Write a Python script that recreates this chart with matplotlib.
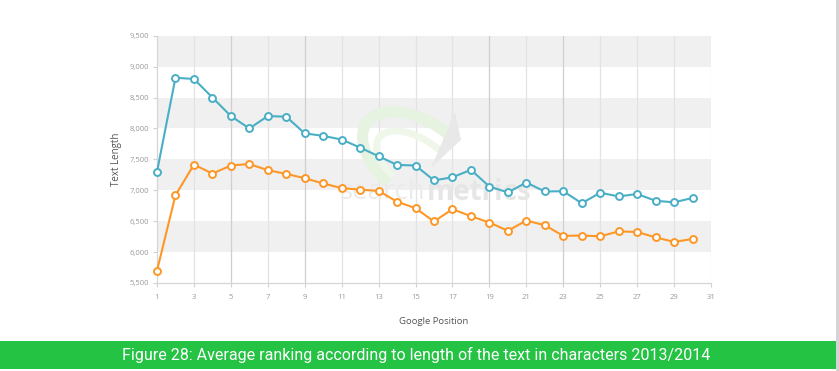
import matplotlib
matplotlib.use("Agg")
import matplotlib.pyplot as plt
from matplotlib.patches import Rectangle, Arc, Polygon
from matplotlib.ticker import FuncFormatter

positions = list(range(1, 31))
series_2014 = [7300, 8820, 8800, 8500, 8200, 8000, 8200, 8190, 7920, 7880,
               7820, 7690, 7550, 7410, 7400, 7160, 7210, 7330, 7060, 6965,
               7125, 6980, 6985, 6790, 6960, 6900, 6940, 6830, 6805, 6875]
series_2013 = [5700, 6920, 7415, 7270, 7400, 7425, 7325, 7265, 7195, 7110,
               7035, 7010, 6990, 6815, 6710, 6495, 6695, 6580, 6478, 6345,
               6510, 6435, 6262, 6268, 6255, 6335, 6325, 6238, 6165, 6212]
xticks = list(range(1, 32, 2))
yticks = list(range(5500, 9501, 500))
title = "Figure 28: Average ranking according to length of the text in characters 2013/2014"

W, H = 839, 371
fig = plt.figure(figsize=(W / 100, H / 100), dpi=100)
fig.patch.set_facecolor("white")

ax = fig.add_axes([157 / W, 1 - 283 / H, (711 - 157) / W, (283 - 35.7) / H])
ax.set_xlim(1, 31)
ax.set_ylim(5500, 9500)

# horizontal bands
for i, lo in enumerate(yticks[:-1]):
    if i % 2 == 1:
        ax.axhspan(lo, lo + 500, color="#eff0ef", zorder=0, lw=0)

# vertical grid
dark = {5, 9, 19, 23}
for x in xticks[1:]:
    ax.axvline(x, color="#cfcfcf" if x in dark else "#e3e3e3", lw=0.9, zorder=1)

# watermark (pixel-based, inches transform)
def px(xp, yp):
    return (xp / 100, (H - yp) / 100)

ax.add_patch(Arc(px(420, 160), 1.30, 0.75, angle=-35, theta1=60, theta2=250,
                 ec="#e6f3e0", lw=8, zorder=1.2, transform=fig.dpi_scale_trans))
ax.add_patch(Arc(px(418, 165), 0.95, 0.50, angle=-35, theta1=70, theta2=240,
                 ec="#eef7ea", lw=5, zorder=1.2, transform=fig.dpi_scale_trans))
ax.add_patch(Polygon([px(455, 112), px(431, 168), px(450, 150), px(461, 140)],
                     closed=True, fc="#e8e8e8", ec="none", zorder=1.25,
                     transform=fig.dpi_scale_trans))
r = fig.canvas.get_renderer()
t1 = ax.text(*px(340, 192), "search", fontsize=20, color="#ebebeb",
             ha="left", va="center", family="Open Sans", zorder=1.3,
             transform=fig.dpi_scale_trans)
fig.canvas.draw()
bb = t1.get_window_extent(r)
ax.text(*px(bb.x1 + 1, 192), "metrics", fontsize=20,
        color="#e6e6e6", ha="left", va="center", family="Open Sans",
        fontweight="bold", zorder=1.3, transform=fig.dpi_scale_trans)

ax.plot(positions, series_2014, color="#4aafc5", lw=1.5, marker="o", ms=5,
        mfc="white", mec="#4aafc5", mew=1.4, zorder=3, clip_on=False)
ax.plot(positions, series_2013, color="#fd9727", lw=1.5, marker="o", ms=5,
        mfc="white", mec="#fd9727", mew=1.4, zorder=3, clip_on=False)

for s in ["top", "right"]:
    ax.spines[s].set_visible(False)
for s in ["left", "bottom"]:
    ax.spines[s].set_color("#d6d6d6")
    ax.spines[s].set_linewidth(0.9)

ax.set_xticks(xticks)
ax.set_yticks(yticks)
ax.yaxis.set_major_formatter(FuncFormatter(lambda v, p: f"{int(v):,}"))
ax.tick_params(axis="both", colors="#d0d0d0", labelcolor="#9a9a9a",
               labelsize=5.5, length=3, width=0.8)
ax.tick_params(axis="x", pad=5)
ax.tick_params(axis="y", pad=3)
for lab in ax.get_xticklabels() + ax.get_yticklabels():
    lab.set_family("Open Sans")

fig.text(117 / W, 1 - 159 / H, "Text Length", rotation=90, ha="center",
         va="center", fontsize=7, color="#555555", family="Open Sans")
fig.text(434 / W, 1 - 322 / H, "Google Position", ha="center", va="center",
         fontsize=6.8, color="#555555", family="Open Sans")

# banner
fig.add_artist(Rectangle((0, 1 - 369 / H), 836 / W, 28 / H,
                         transform=fig.transFigure, color="#24c344", lw=0))
fig.add_artist(Rectangle((836 / W, 0), 3 / W, 1,
                         transform=fig.transFigure, color="#d4d4d4", lw=0))

t = fig.text(416 / W, 1 - 355 / H, title, ha="center", va="center",
             fontsize=12, color="white", family="Roboto")
fig.canvas.draw()
w = t.get_window_extent(r).width
t.set_fontsize(12 * 583 / w)

fig.savefig("out.png", dpi=100, facecolor="white")
